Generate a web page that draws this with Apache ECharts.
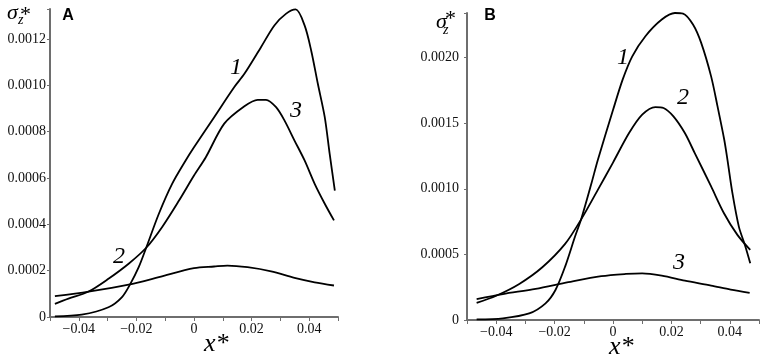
<!DOCTYPE html>
<html>
<head>
<meta charset="utf-8">
<script src="https://cdn.jsdelivr.net/npm/echarts@6/dist/echarts.min.js"></script>
<style>
  html, body { margin: 0; padding: 0; background: #fff; }
  #chart { width: 765px; height: 359px; }
</style>
</head>
<body>
<div id="chart"></div>
<script>
// panel A
const xA1 = [-0.0483, -0.039, -0.0297, -0.025, -0.0221, -0.0192, -0.0166, -0.0122, -0.0076, -0.0029, 0, 0.007, 0.014, 0.0175, 0.0233, 0.0279, 0.032, 0.0353, 0.0384, 0.0407, 0.043, 0.0454, 0.0471, 0.0489];
const yA1 = [0.000003, 0.00001, 0.000042, 0.000086, 0.000143, 0.000215, 0.000299, 0.000446, 0.000575, 0.000676, 0.000733, 0.000863, 0.000993, 0.00105, 0.001166, 0.001259, 0.00131, 0.001328, 0.001259, 0.00115, 0.001007, 0.000863, 0.000705, 0.000546];
const xA3 = [-0.0483, -0.0436, -0.0366, -0.0297, -0.0227, -0.0166, -0.0111, -0.0052, 0, 0.0041, 0.0105, 0.0175, 0.0221, 0.025, 0.0285, 0.0314, 0.0349, 0.0384, 0.0419, 0.0454, 0.0486];
const yA3 = [0.000057, 0.000079, 0.00011, 0.000165, 0.00023, 0.000299, 0.000388, 0.000503, 0.000611, 0.00069, 0.000835, 0.00091, 0.000938, 0.000938, 0.000906, 0.000849, 0.000762, 0.000676, 0.000575, 0.000489, 0.000417];
const xA2 = [-0.0483, -0.0366, -0.0227, -0.0122, 0, 0.007, 0.0116, 0.0186, 0.0268, 0.0349, 0.0419, 0.0486];
const yA2 = [0.00009, 0.00011, 0.00014, 0.000172, 0.000211, 0.000218, 0.000222, 0.000215, 0.000197, 0.000169, 0.00015, 0.000136];

// panel B
const xB1 = [-0.0467, -0.0377, -0.0287, -0.0231, -0.0197, -0.0164, -0.013, -0.0108, -0.0074, -0.0052, 0, 0.0033, 0.0066, 0.0111, 0.0167, 0.0212, 0.024, 0.0274, 0.0302, 0.0336, 0.0358, 0.0381, 0.0392, 0.0409, 0.0431, 0.0452, 0.047];
const yB1 = [0.000005, 0.000013, 0.00005, 0.000127, 0.000229, 0.000407, 0.000636, 0.000776, 0.00104, 0.00122, 0.0016, 0.001832, 0.00201, 0.002163, 0.00229, 0.00234, 0.002336, 0.002252, 0.002112, 0.001857, 0.001628, 0.001374, 0.001221, 0.000967, 0.000712, 0.00057, 0.000433];
const xB2 = [-0.0467, -0.04, -0.0321, -0.0242, -0.0164, -0.0108, -0.0052, 0, 0.0055, 0.01, 0.0145, 0.0173, 0.0207, 0.0246, 0.028, 0.0336, 0.038, 0.0426, 0.047];
const yB2 = [0.00013, 0.000185, 0.000275, 0.000402, 0.00058, 0.000771, 0.000992, 0.0012, 0.001425, 0.001565, 0.001623, 0.001616, 0.001552, 0.001425, 0.001272, 0.001018, 0.000814, 0.000649, 0.000534];
const xB3 = [-0.0467, -0.0377, -0.0265, -0.0153, -0.004, 0.0044, 0.01, 0.0167, 0.0246, 0.0336, 0.0403, 0.0468];
const yB3 = [0.00016, 0.000198, 0.000237, 0.000288, 0.000334, 0.000351, 0.000356, 0.000338, 0.0003, 0.000262, 0.000231, 0.000206];

const curveLabelsA = [{ t: "1", x: 236, y: 68 }, { t: "3", x: 296, y: 111 }, { t: "2", x: 119, y: 257 }];
const curveLabelsB = [{ t: "1", x: 623, y: 58 }, { t: "2", x: 683, y: 98 }, { t: "3", x: 679, y: 263 }];

const X_MIN = -0.05;
const Y_MAX_A = 0.00133;
const Y_MAX_B = 0.00234;
const SERIF = "Liberation Serif";
const AXIS_GRAY = "#6e6e6e";

const zip = (xs, ys) => xs.map((x, i) => [x, ys[i]]);

const xLabel = (v) => {
  const k = Math.round(v * 100);
  if (k % 2 !== 0) return "";
  if (k === 0) return "0";
  return (k < 0 ? "\u2212" : "") + (Math.abs(k) / 100).toFixed(2);
};
const yLabel = (step) => (v) => {
  const r = v / step;
  if (Math.abs(r - Math.round(r)) > 1e-6) return "";
  if (Math.abs(v) < 1e-12) return "0";
  return v.toFixed(4);
};

const xAxisBase = (grid) => ({
  gridIndex: grid,
  type: "value",
  min: X_MIN,
  max: 0.05,
  interval: 0.01,
  axisLine: { show: true, lineStyle: { color: AXIS_GRAY, width: 2 } },
  axisTick: { show: true, length: 4, lineStyle: { color: AXIS_GRAY } },
  axisLabel: { formatter: xLabel, fontFamily: SERIF, fontSize: 14, color: "#111", margin: 5 },
  splitLine: { show: false },
});
const yAxisBase = (grid, max, step, margin) => ({
  gridIndex: grid,
  type: "value",
  position: "left",
  min: 0,
  max: max,
  interval: step,
  axisLine: { show: true, onZero: false, lineStyle: { color: AXIS_GRAY, width: 2 } },
  axisTick: { show: true, length: 3, lineStyle: { color: AXIS_GRAY } },
  axisLabel: { formatter: yLabel(step), fontFamily: SERIF, fontSize: 14, color: "#111", margin: margin },
  splitLine: { show: false },
});

const line = (data, idx) => ({
  type: "line",
  xAxisIndex: idx,
  yAxisIndex: idx,
  data: data,
  showSymbol: false,
  smooth: 0.3,
  lineStyle: { color: "#000", width: 1.8 },
  silent: true,
});

const txt = (t, x, y, font, align) => ({
  type: "text",
  x: x,
  y: y,
  silent: true,
  style: { text: t, font: font, fill: "#000", textAlign: align || "center", textVerticalAlign: "middle" },
});

const graphics = [
  txt("A", 68, 16, "bold 16px 'Liberation Sans', Arial, sans-serif"),
  txt("B", 490, 16, "bold 16px 'Liberation Sans', Arial, sans-serif"),
  txt("\u03c3", 7, 13, "italic 22px 'Liberation Serif'", "left"),
  txt("z", 18, 20, "italic 14px 'Liberation Serif'", "left"),
  txt("*", 20, 15, "22px 'Liberation Serif'", "left"),
  txt("\u03c3", 436, 22, "italic 22px 'Liberation Serif'", "left"),
  txt("z", 443, 30, "italic 14px 'Liberation Serif'", "left"),
  txt("*", 445, 19, "22px 'Liberation Serif'", "left"),
  txt("x*", 204, 344, "italic 26px 'Liberation Serif'", "left"),
  txt("x*", 609, 347, "italic 26px 'Liberation Serif'", "left"),
];
curveLabelsA.concat(curveLabelsB).forEach((l) => {
  graphics.push(txt(l.t, l.x, l.y, "italic 24px 'Liberation Serif'"));
});

const chart = echarts.init(document.getElementById("chart"), null, { renderer: "canvas" });
chart.setOption({
  animation: false,
  backgroundColor: "#fff",
  grid: [
    { left: 50, top: 9, width: 288, height: 308 },
    { left: 467, top: 13, width: 292, height: 307 },
  ],
  xAxis: [xAxisBase(0), xAxisBase(1)],
  yAxis: [yAxisBase(0, Y_MAX_A, 0.0002, 4), yAxisBase(1, Y_MAX_B, 0.0005, 8)],
  series: [
    line(zip(xA1, yA1), 0),
    line(zip(xA3, yA3), 0),
    line(zip(xA2, yA2), 0),
    line(zip(xB1, yB1), 1),
    line(zip(xB2, yB2), 1),
    line(zip(xB3, yB3), 1),
  ],
});

// left axis lines, placed through the grids' own scales
const edge = (gridIndex, yMax) => {
  const bottom = chart.convertToPixel({ gridIndex: gridIndex }, [X_MIN, 0]);
  const top = chart.convertToPixel({ gridIndex: gridIndex }, [X_MIN, yMax]);
  return {
    type: "rect",
    silent: true,
    z: 100,
    shape: { x: Math.round(bottom[0]) - 1, y: top[1], width: 2, height: bottom[1] - top[1] + 1 },
    style: { fill: AXIS_GRAY },
  };
};
graphics.push(edge(0, Y_MAX_A), edge(1, Y_MAX_B));
chart.setOption({ graphic: graphics });
</script>
</body>
</html>
